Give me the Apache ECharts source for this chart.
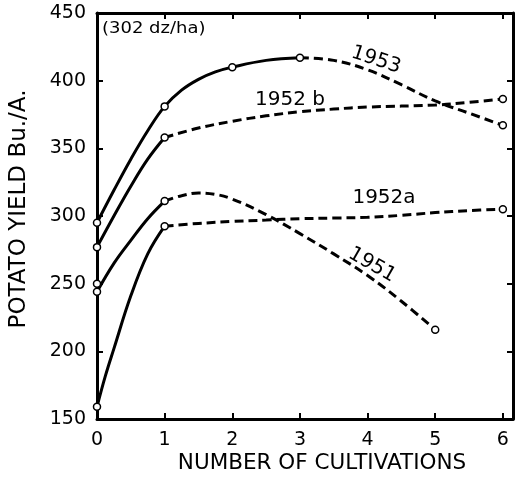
<!DOCTYPE html>
<html>
<head>
<meta charset="utf-8">
<script src="https://cdn.jsdelivr.net/npm/echarts@6/dist/echarts.min.js"></script>
<style>
  html, body { margin: 0; padding: 0; background: #fff; }
  #chart { width: 516px; height: 481px; }
</style>
</head>
<body>
<div id="chart"></div>
<script>
// axis ticks
const xTicks = [0, 1, 2, 3, 4, 5, 6];
const yTicks = [150, 200, 250, 300, 350, 400, 450];

// 1953: measured up to 3 cultivations (solid), extrapolated after (dashed)
const solid1953 = [[0, 295], [0.25, 319], [0.5, 342], [0.75, 363], [1, 381], [1.25, 393], [1.5, 401], [1.75, 406.5], [2, 410], [2.5, 415], [3, 417]];
const dashed1953 = [[3, 417], [3.5, 415], [4, 408], [4.5, 397], [5, 385], [5.5, 376], [6, 367]];
const points1953 = [[0, 295], [1, 381], [2, 410], [3, 417], [6, 367]];

// 1952 b
const solid1952b = [[0, 277], [0.25, 300], [0.5, 322], [0.75, 342], [1, 358]];
const dashed1952b = [[1, 358], [1.5, 365], [2, 370], [2.5, 374], [3, 377], [3.5, 379], [4, 380.5], [5, 382], [5.5, 384], [6, 386.5]];
const points1952b = [[0, 277], [1, 358], [6, 386.5]];

// 1951
const solid1951 = [[0, 244], [0.25, 265], [0.5, 282], [0.75, 298], [1, 311]];
const dashed1951 = [[1, 311], [1.25, 315], [1.5, 317], [1.75, 316], [2, 312.5], [2.5, 301], [3, 287], [3.5, 272], [4, 256], [4.5, 237], [5, 216]];
const points1951 = [[0, 244], [0, 250], [1, 311], [5, 216]];

// 1952 a
const solid1952a = [[0, 159], [0.125, 182], [0.25, 202], [0.5, 241], [0.75, 272], [1, 292.5]];
const dashed1952a = [[1, 292.5], [1.5, 294.5], [2, 296], [2.5, 297], [3, 298], [3.5, 298.5], [4, 299], [4.5, 300.5], [5, 302.5], [5.5, 304], [6, 305]];
const points1952a = [[0, 159], [1, 292.5], [6, 305]];

const FONT = "DejaVu Sans";

function curve(data, dashed) {
  return {
    type: "line",
    data: data,
    smooth: 0.4,
    showSymbol: false,
    silent: true,
    lineStyle: { color: "#000", width: 3, type: dashed ? [9, 5] : "solid" },
    z: 2,
  };
}

function markers(data) {
  return {
    type: "scatter",
    data: data,
    symbol: "circle",
    symbolSize: 7,
    itemStyle: { color: "#fff", borderColor: "#000", borderWidth: 1.5, opacity: 1 },
    z: 5,
  };
}

const chart = echarts.init(document.getElementById("chart"));

const axisLine = { show: true, onZero: false, lineStyle: { color: "#000", width: 3 } };
const axisTick = { show: true, inside: true, length: 6, lineStyle: { color: "#000", width: 2 } };

chart.setOption({
  animation: false,
  backgroundColor: "#fff",
  grid: { left: 97, right: 1, top: 13, bottom: 62 },
  xAxis: [
    {
      type: "value",
      min: xTicks[0],
      max: 6.15,
      interval: 1,
      axisLine: axisLine,
      axisTick: axisTick,
      splitLine: { show: false },
      axisLabel: {
        color: "#000", fontFamily: FONT, fontSize: 19, margin: 12,
        formatter: (v) => (xTicks.indexOf(v) >= 0 ? String(v) : ""),
      },
    },
    {
      type: "value",
      position: "top",
      min: xTicks[0],
      max: 6.15,
      interval: 1,
      axisLine: axisLine,
      axisTick: axisTick,
      splitLine: { show: false },
      axisLabel: { show: false },
    },
  ],
  yAxis: [
    {
      type: "value",
      min: yTicks[0],
      max: yTicks[yTicks.length - 1],
      interval: 50,
      axisLine: axisLine,
      axisTick: axisTick,
      splitLine: { show: false },
      axisLabel: { color: "#000", fontFamily: FONT, fontSize: 19, margin: 11 },
    },
    {
      type: "value",
      position: "right",
      min: yTicks[0],
      max: yTicks[yTicks.length - 1],
      interval: 50,
      axisLine: axisLine,
      axisTick: axisTick,
      splitLine: { show: false },
      axisLabel: { show: false },
    },
  ],
  series: [
    curve(solid1953, false), curve(dashed1953, true), markers(points1953),
    curve(solid1952b, false), curve(dashed1952b, true), markers(points1952b),
    curve(solid1951, false), curve(dashed1951, true), markers(points1951),
    curve(solid1952a, false), curve(dashed1952a, true), markers(points1952a),
  ],
  graphic: [
    // axis titles
    {
      type: "text", x: 19, y: 209, rotation: Math.PI / 2,
      style: { text: "POTATO YIELD Bu./A.", fontFamily: FONT, fontSize: 23, fill: "#000", align: "center", verticalAlign: "middle" },
    },
    {
      type: "text", x: 322, y: 463,
      style: { text: "NUMBER OF CULTIVATIONS", fontFamily: FONT, fontSize: 21.5, fill: "#000", align: "center", verticalAlign: "middle" },
    },
    // unit note
    {
      type: "text", x: 102, y: 29, scaleX: 1.2,
      style: { text: "(302 dz/ha)", fontFamily: FONT, fontSize: 15, fill: "#000", align: "left", verticalAlign: "middle" },
    },
    // curve labels
    {
      type: "text", x: 376, y: 60, rotation: -18 * Math.PI / 180,
      style: { text: "1953", fontFamily: FONT, fontSize: 20, fill: "#000", align: "center", verticalAlign: "middle" },
    },
    {
      type: "text", x: 290, y: 100,
      style: { text: "1952 b", fontFamily: FONT, fontSize: 20, fill: "#000", align: "center", verticalAlign: "middle" },
    },
    {
      type: "text", x: 384, y: 198,
      style: { text: "1952a", fontFamily: FONT, fontSize: 20, fill: "#000", align: "center", verticalAlign: "middle" },
    },
    {
      type: "text", x: 372, y: 265, rotation: -30 * Math.PI / 180,
      style: { text: "1951", fontFamily: FONT, fontSize: 20, fill: "#000", align: "center", verticalAlign: "middle" },
    },
  ],
});
</script>
</body>
</html>
